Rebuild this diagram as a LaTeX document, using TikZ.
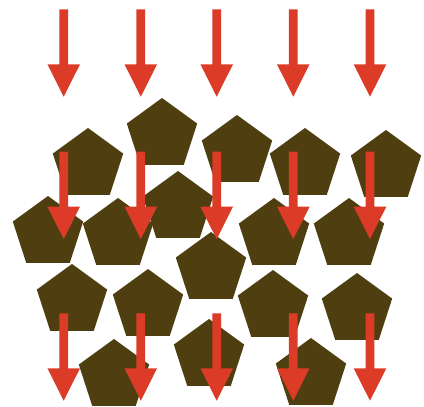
\documentclass[tikz,border=0pt]{standalone}
\usetikzlibrary{shapes.geometric}
\definecolor{penta}{RGB}{79,62,15}
\definecolor{arrowred}{RGB}{220,59,39}
\tikzset{
  pent/.style={regular polygon, regular polygon sides=5, minimum size=74pt, inner sep=0pt, fill=penta, draw=none},
}
\begin{document}
\begin{tikzpicture}[x=1pt,y=-1pt]
\useasboundingbox (0,0) rectangle (424,407);
\fill[white] (0,0) rectangle (424,407);
% pentagons
\foreach \n/\px/\py in {p1/88/165, p2/162/135, p3/237/152, p4/305/165, p5/386/167,
  p6/48/233, p7/118/235, p8/178/208, p9/211/269, p10/274/235, p11/349/235,
  p12/72/301, p13/148/306, p14/273/307, p15/357/310,
  p16/114/376, p17/209/356, p18/311/375}
  \node[pent] (\n) at (\px,\py) {};
% arrows
\foreach \ax in {63.7,140.8,216.7,293.3,370}
  \foreach \ay in {9.3,151.7,313.3}
    \fill[arrowred] (\ax-4.4,\ay) -- (\ax+4.4,\ay) -- (\ax+4.4,\ay+55) -- (\ax+16.3,\ay+55)
      -- (\ax,\ay+87.4) -- (\ax-16.3,\ay+55) -- (\ax-4.4,\ay+55) -- cycle;
\end{tikzpicture}
\end{document}
